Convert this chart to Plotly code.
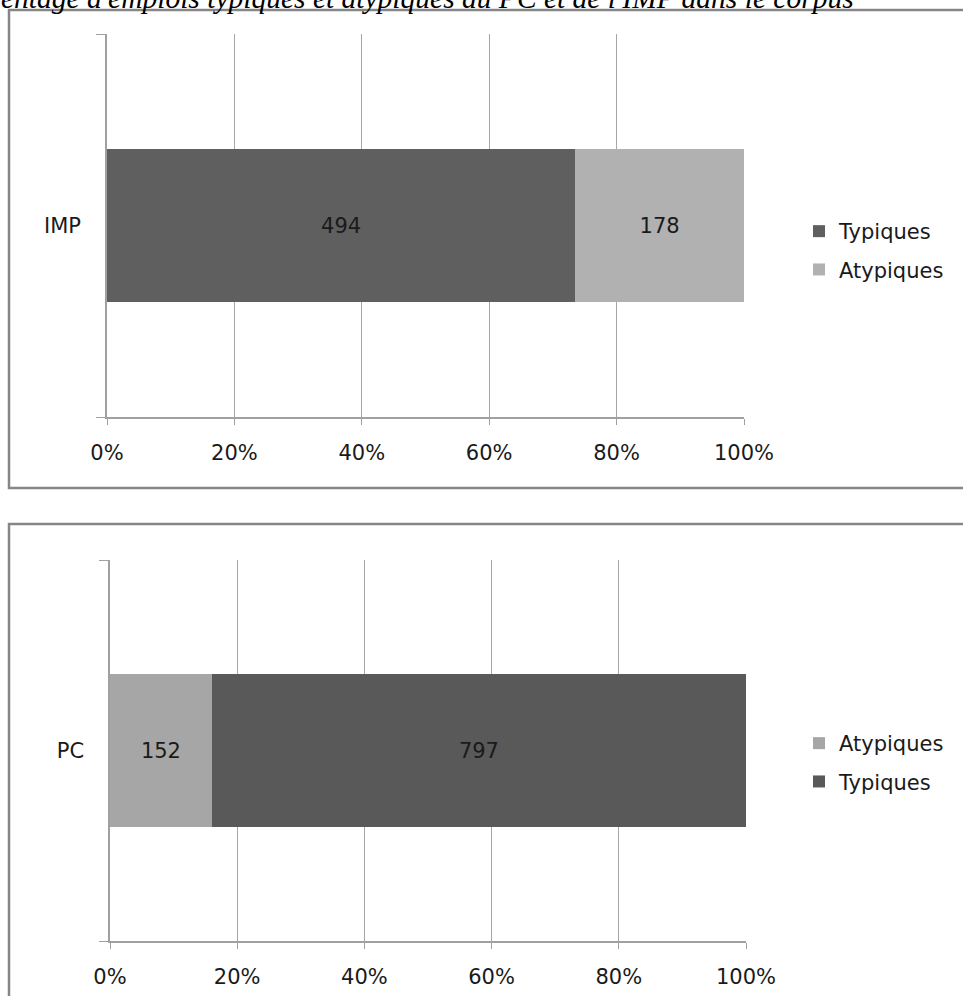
import plotly.graph_objects as go

W, H = 963, 996

title_text = "Pourcentage d'emplois typiques et atypiques du PC et de l'IMP dans le corpus"

# Top panel (IMP)
top_category = ["IMP"]
top_series = ["Typiques", "Atypiques"]
top_values = [[494], [178]]
top_colors = ["#5f5f5f", "#b1b1b1"]

# Bottom panel (PC)
bottom_category = ["PC"]
bottom_series = ["Atypiques", "Typiques"]
bottom_values = [[152], [797]]
bottom_colors = ["#a6a6a6", "#595959"]

tick_vals = [0, 0.2, 0.4, 0.6, 0.8, 1.0]
tick_text = ["0%", "20%", "40%", "60%", "80%", "100%"]

FONT = "DejaVu Sans"
FS = 21
fig = go.Figure()

for name, vals, col in zip(top_series, top_values, top_colors):
    fig.add_trace(go.Bar(
        y=top_category, x=vals, orientation="h", name=name,
        marker=dict(color=col, line=dict(width=0)),
        text=[str(v) for v in vals], textposition="inside",
        insidetextanchor="middle",
        textfont=dict(family=FONT, size=FS, color="#1a1a1a"),
        width=0.4, xaxis="x", yaxis="y", legend="legend",
        legendgroup="t_" + name, hoverinfo="skip"))

for name, vals, col in zip(bottom_series, bottom_values, bottom_colors):
    fig.add_trace(go.Bar(
        y=bottom_category, x=vals, orientation="h", name=name,
        marker=dict(color=col, line=dict(width=0)),
        text=[str(v) for v in vals], textposition="inside",
        insidetextanchor="middle",
        textfont=dict(family=FONT, size=FS, color="#1a1a1a"),
        width=0.4, xaxis="x2", yaxis="y2", legend="legend2",
        legendgroup="b_" + name, hoverinfo="skip"))


def px_x(p):
    return p / W


def px_y(p):
    return 1 - p / H


xaxis_common = dict(
    range=[0, 1], tickvals=tick_vals, ticktext=tick_text,
    showgrid=True, gridcolor="#a6a6a6", gridwidth=1,
    showline=True, linecolor="#a0a0a0", linewidth=1.5,
    ticks="outside", ticklen=6, tickcolor="#a0a0a0",
    tickfont=dict(family=FONT, size=FS, color="#1a1a1a"),
    ticklabelstandoff=10, zeroline=False, fixedrange=True, automargin=False)

yaxis_common = dict(
    range=[-0.5, 0.5], type="category", tickson="boundaries",
    showline=True, linecolor="#a0a0a0", linewidth=1.5,
    ticks="outside", ticklen=9, tickcolor="#a0a0a0",
    tickfont=dict(family=FONT, size=FS, color="#1a1a1a"),
    ticklabelstandoff=20, showgrid=False, zeroline=False, fixedrange=True,
    automargin=False)

fig.update_layout(
    width=W, height=H,
    margin=dict(l=0, r=0, t=0, b=0, pad=0, autoexpand=False),
    paper_bgcolor="white", plot_bgcolor="white",
    barmode="stack", barnorm="fraction",
    xaxis=dict(domain=[px_x(107), px_x(744)], anchor="y", **xaxis_common),
    yaxis=dict(domain=[px_y(417), px_y(34)], anchor="x", **yaxis_common),
    xaxis2=dict(domain=[px_x(110), px_x(746)], anchor="y2", **xaxis_common),
    yaxis2=dict(domain=[px_y(941), px_y(560)], anchor="x2", **yaxis_common),
    legend=dict(x=px_x(799), y=px_y(211), xanchor="left", yanchor="top",
                font=dict(family=FONT, size=FS, color="#1a1a1a"),
                traceorder="grouped", tracegroupgap=8, bgcolor="rgba(0,0,0,0)"),
    legend2=dict(x=px_x(799), y=px_y(723), xanchor="left", yanchor="top",
                 font=dict(family=FONT, size=FS, color="#1a1a1a"),
                 traceorder="grouped", tracegroupgap=8, bgcolor="rgba(0,0,0,0)"),
    showlegend=True,
    shapes=[
        dict(type="rect", xref="paper", yref="paper",
             x0=px_x(9), x1=px_x(1000), y0=px_y(488), y1=px_y(10),
             line=dict(color="#868686", width=2.5), fillcolor="rgba(0,0,0,0)"),
        dict(type="rect", xref="paper", yref="paper",
             x0=px_x(9), x1=px_x(1000), y0=px_y(1040), y1=px_y(524),
             line=dict(color="#868686", width=2.5), fillcolor="rgba(0,0,0,0)"),
    ],
    annotations=[
        dict(text=title_text, xref="paper", yref="paper",
             x=px_x(-73), y=px_y(16), xanchor="left", yanchor="bottom",
             showarrow=False,
             font=dict(family="Liberation Serif", size=29.5, color="#000000",
                       style="italic")),
    ],
)

fig.write_html("out.html")
